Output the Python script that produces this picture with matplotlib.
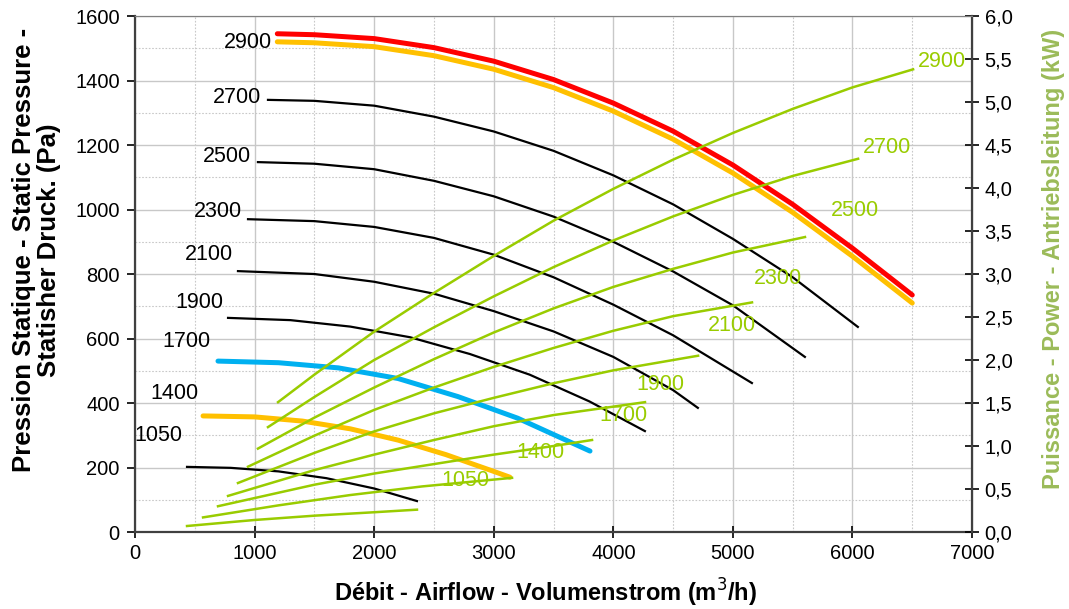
import numpy as np
import matplotlib
matplotlib.use("Agg")
import matplotlib.pyplot as plt
from matplotlib.ticker import MultipleLocator, FuncFormatter

plt.rcParams['font.family'] = ['Liberation Sans', 'DejaVu Sans']

# speeds (rpm) of the curves
speeds = ["2900", "2700", "2500", "2300", "2100", "1900", "1700", "1400", "1050"]

# static pressure curves: airflow (m3/h), pressure (Pa)
p_2900_x = [1190, 1500, 2000, 2500, 3000, 3500, 4000, 4500, 5000, 5500, 6000, 6500]
p_2900_y = [1545, 1542, 1530, 1502, 1460, 1403, 1330, 1243, 1138, 1016, 880, 735]
p_2900b_x = [1190, 1500, 2000, 2500, 3000, 3500, 4000, 4500, 5000, 5500, 6000, 6500]
p_2900b_y = [1520, 1517, 1505, 1477, 1435, 1378, 1305, 1218, 1113, 991, 855, 710]
p_2700_x = [1112, 1500, 2000, 2500, 3000, 3500, 4000, 4500, 5000, 5500, 6045]
p_2700_y = [1340, 1337, 1322, 1288, 1242, 1182, 1106, 1016, 909, 790, 636]
p_2500_x = [1028, 1500, 2000, 2500, 3000, 3500, 4000, 4500, 5000, 5602]
p_2500_y = [1147, 1142, 1125, 1089, 1041, 978, 900, 808, 703, 543]
p_2300_x = [945, 1500, 2000, 2500, 3000, 3500, 4000, 4500, 5159]
p_2300_y = [970, 964, 946, 912, 860, 790, 705, 610, 462]
p_2100_x = [861, 1500, 2000, 2500, 3000, 3500, 4000, 4500, 4707]
p_2100_y = [809, 800, 776, 739, 685, 622, 543, 440, 385]
p_1900_x = [778, 1300, 1800, 2300, 2800, 3300, 3800, 4264]
p_1900_y = [664, 657, 637, 604, 552, 488, 405, 313]
p_1700_x = [694, 1200, 1700, 2200, 2700, 3200, 3805]
p_1700_y = [530, 525, 509, 476, 420, 353, 251]
p_1400_x = [569, 1000, 1400, 1800, 2200, 2600, 3000, 3135]
p_1400_y = [360, 357, 344, 320, 285, 240, 188, 170]
p_1050_x = [435, 800, 1200, 1600, 2000, 2358]
p_1050_y = [202, 199, 188, 167, 135, 96]

# power curves: airflow (m3/h), power (kW)
w_2900_x = [1196, 1500, 2000, 2500, 3000, 3500, 4000, 4500, 5000, 5500, 6000, 6507]
w_2900_y = [1.51, 1.83, 2.33, 2.78, 3.21, 3.62, 3.99, 4.33, 4.64, 4.92, 5.17, 5.38]
w_2700_x = [1112, 1500, 2000, 2500, 3000, 3500, 4000, 4500, 5000, 5500, 6047]
w_2700_y = [1.22, 1.57, 2.00, 2.38, 2.74, 3.08, 3.39, 3.67, 3.92, 4.14, 4.34]
w_2500_x = [1028, 1500, 2000, 2500, 3000, 3500, 4000, 4500, 5000, 5603]
w_2500_y = [0.97, 1.33, 1.68, 2.01, 2.32, 2.60, 2.85, 3.06, 3.25, 3.43]
w_2300_x = [945, 1500, 2000, 2500, 3000, 3500, 4000, 4500, 5160]
w_2300_y = [0.76, 1.12, 1.42, 1.68, 1.92, 2.14, 2.34, 2.51, 2.67]
w_2100_x = [861, 1500, 2000, 2500, 3000, 3500, 4000, 4709]
w_2100_y = [0.57, 0.92, 1.17, 1.38, 1.56, 1.73, 1.88, 2.05]
w_1900_x = [778, 1500, 2000, 2500, 3000, 3500, 4265]
w_1900_y = [0.42, 0.72, 0.90, 1.07, 1.23, 1.36, 1.51]
w_1700_x = [694, 1500, 2000, 2500, 3000, 3500, 3822]
w_1700_y = [0.30, 0.55, 0.68, 0.79, 0.90, 1.00, 1.07]
w_1400_x = [569, 1200, 1800, 2400, 3153]
w_1400_y = [0.17, 0.31, 0.43, 0.53, 0.63]
w_1050_x = [435, 1000, 1500, 2000, 2358]
w_1050_y = [0.07, 0.14, 0.19, 0.23, 0.26]

GREEN = "#99CC00"

fig = plt.figure(figsize=(10.69, 6.09), dpi=100)
ax = fig.add_axes([0.1263, 0.1264, 0.9093 - 0.1263, 0.9737 - 0.1264])
ax2 = ax.twinx()

# pressure curves
ax.plot(p_2900_x, p_2900_y, color="#FF0000", lw=3.6, solid_capstyle="round", zorder=5)
ax.plot(p_2900b_x, p_2900b_y, color="#FFC000", lw=3.6, solid_capstyle="round", zorder=4)
black = [(p_2700_x, p_2700_y), (p_2500_x, p_2500_y), (p_2300_x, p_2300_y),
         (p_2100_x, p_2100_y), (p_1900_x, p_1900_y), (p_1050_x, p_1050_y)]
for xs, ys in black:
    ax.plot(xs, ys, color="black", lw=1.6, zorder=3)
ax.plot(p_1700_x, p_1700_y, color="#00B0F0", lw=3.6, solid_capstyle="round", zorder=4)
ax.plot(p_1400_x, p_1400_y, color="#FFC000", lw=3.6, solid_capstyle="round", zorder=4)

# black speed labels (layout positions in data coords)
blabel_pos = [(945, 1519), (853, 1346), (770, 1163), (694, 995), (619, 862),
              (535, 713), (427, 592), (326, 428), (192, 298)]
for s, (lx, ly) in zip(speeds, blabel_pos):
    ax.text(lx, ly, s, fontsize=15.5, ha="center", va="center", color="black", zorder=6)

# power curves
power = [(w_2900_x, w_2900_y), (w_2700_x, w_2700_y), (w_2500_x, w_2500_y),
         (w_2300_x, w_2300_y), (w_2100_x, w_2100_y), (w_1900_x, w_1900_y),
         (w_1700_x, w_1700_y), (w_1400_x, w_1400_y), (w_1050_x, w_1050_y)]
for xs, ys in power:
    ax2.plot(xs, ys, color=GREEN, lw=1.8, zorder=3)

glabel_pos = [(6749, 5.47), (6289, 4.47), (6021, 3.74), (5378, 2.95), (4993, 2.40),
              (4391, 1.72), (4081, 1.36), (3387, 0.93), (2760, 0.60)]
for s, (lx, ly) in zip(speeds, glabel_pos):
    ax2.text(lx, ly, s, fontsize=15.5, ha="center", va="center", color=GREEN, zorder=6)

# axes limits and ticks
ax.set_xlim(0, 7000)
ax.set_ylim(0, 1600)
ax2.set_ylim(0, 6)
ax.xaxis.set_major_locator(MultipleLocator(1000))
ax.xaxis.set_minor_locator(MultipleLocator(500))
ax.yaxis.set_major_locator(MultipleLocator(200))
ax.yaxis.set_minor_locator(MultipleLocator(100))
ax2.yaxis.set_major_locator(MultipleLocator(0.5))
ax2.yaxis.set_major_formatter(FuncFormatter(lambda v, p: f"{v:.1f}".replace(".", ",")))

ax.grid(True, which="major", color="#C8C8C8", lw=1.0, ls="-")
ax.grid(True, which="minor", color="#C8C8C8", lw=0.8, ls=(0, (1.5, 1.5)))
ax.set_axisbelow(True)

ax.tick_params(axis="x", which="major", direction="inout", length=9, width=1.2,
               labelsize=14.5, pad=4)
ax.tick_params(axis="y", which="major", direction="out", length=6, width=1.2,
               labelsize=14.5, pad=5)
ax.tick_params(which="minor", length=0)
ax2.tick_params(axis="y", which="major", direction="inout", length=10, width=1.2,
                labelsize=14.5, pad=4)

for sp in ["left", "bottom"]:
    ax.spines[sp].set_color("#404040")
    ax.spines[sp].set_linewidth(1.6)
ax2.spines["right"].set_color("#404040")
ax2.spines["right"].set_linewidth(1.6)
ax.spines["top"].set_color("#808080")
ax2.spines["top"].set_color("#808080")
ax2.spines["left"].set_visible(False)
ax2.spines["bottom"].set_visible(False)

ax.set_xlabel("Débit - Airflow - Volumenstrom (m$^3$/h)", fontsize=17,
              fontweight="bold")
ax.xaxis.set_label_coords(0.49, -0.087)
ax.set_ylabel("Pression Statique - Static Pressure -\nStatisher Druck. (Pa)",
              fontsize=18.5, fontweight="bold", linespacing=1.05)
ax.yaxis.set_label_coords(-0.089, 0.547)
ax2.set_ylabel("Puissance - Power - Antriebsleitung (kW)", fontsize=17,
               fontweight="bold", color="#9BBB59")
ax2.yaxis.set_label_coords(1.0836, 0.53)

fig.savefig("out.png", dpi=100, facecolor="white")
